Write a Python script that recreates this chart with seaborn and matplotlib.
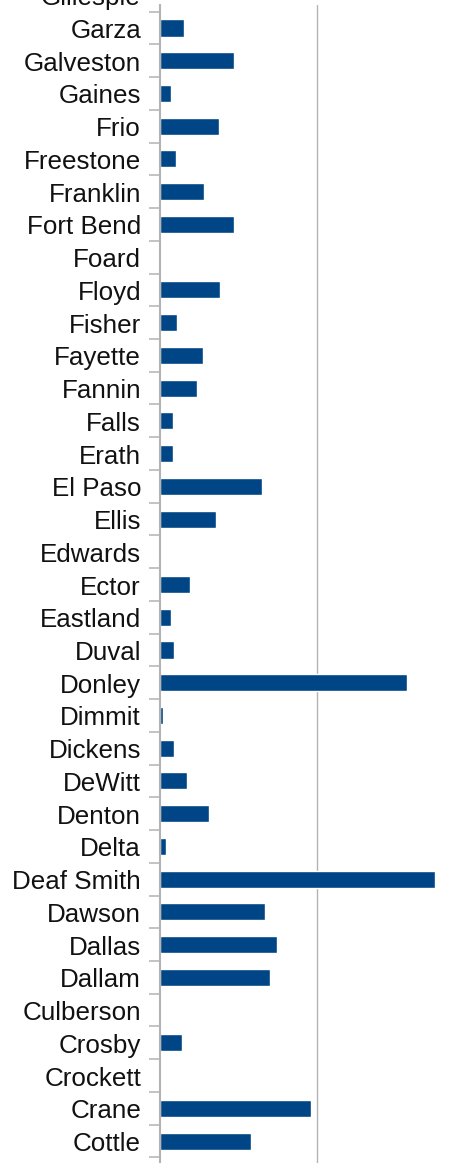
import pandas as pd
import matplotlib
matplotlib.use("Agg")
import matplotlib.pyplot as plt
import matplotlib.transforms as mtransforms
import seaborn as sns

# counties, top to bottom as shown (the chart is a slice of a longer list)
counties = ["Gillespie", "Garza", "Galveston", "Gaines", "Frio", "Freestone",
            "Franklin", "Fort Bend", "Foard", "Floyd", "Fisher", "Fayette",
            "Fannin", "Falls", "Erath", "El Paso", "Ellis", "Edwards", "Ector",
            "Eastland", "Duval", "Donley", "Dimmit", "Dickens", "DeWitt",
            "Denton", "Delta", "Deaf Smith", "Dawson", "Dallas", "Dallam",
            "Culberson", "Crosby", "Crockett", "Crane", "Cottle", "Coryell"]
values = [0, 15.3, 47.0, 7.0, 37.5, 10.2,
          28.0, 47.0, 0, 38.1, 10.8, 27.3,
          23.5, 8.3, 8.3, 64.8, 35.6, 0, 19.1,
          7.0, 8.9, 157.0, 1.9, 8.9, 17.2,
          31.2, 3.8, 174.8, 66.8, 74.4, 69.9,
          0, 14.0, 0, 96.0, 57.9, 0]
grid_at = [100]

df = pd.DataFrame({"county": counties, "value": values})

sns.set_style("white")
plt.rcParams["font.family"] = ["Liberation Sans", "DejaVu Sans"]

fig = plt.figure(figsize=(4.70, 11.63), dpi=100)
ax = fig.add_axes([160 / 470, 0.0, 1.0 - 160 / 470, 1 - 5 / 1163])

sns.barplot(data=df, x="value", y="county", order=counties, orient="h",
            color="#004586", saturation=1, width=0.52, ax=ax)

for g in grid_at:
    ax.axvline(g, color="#b3b3b3", lw=1.0, zorder=0)

for s in ["top", "right", "bottom"]:
    ax.spines[s].set_visible(False)
ax.spines["left"].set_color("#b3b3b3")
ax.spines["left"].set_linewidth(1.5)

ax.set_xticks([])
ax.set_xlabel("")
ax.set_ylabel("")
ax.set_yticks(range(len(counties)))
ax.set_yticklabels([])
ax.tick_params(axis="y", which="major", length=0)
ax.set_yticks([i + 0.5 for i in range(-1, len(counties))], minor=True)
ax.tick_params(axis="y", which="minor", left=True, length=8, width=1.1,
               color="#b3b3b3", direction="out")

# view window: slice of the full chart (set after the ticks)
ax.set_ylim(35.67, 0.2975)
ax.set_xlim(0, 197.1)

# labels drawn as text so the partly cut ones at the edges show too
trans = mtransforms.blended_transform_factory(ax.transAxes, ax.transData)
off = mtransforms.ScaledTranslation(-19 / 100, -10 / 100, fig.dpi_scale_trans)
for i, name in enumerate(counties):
    ax.text(0, i, name, transform=trans + off, ha="right", va="baseline",
            fontsize=18.7, color="#111111", clip_on=False)

fig.savefig("out.png", dpi=100)
